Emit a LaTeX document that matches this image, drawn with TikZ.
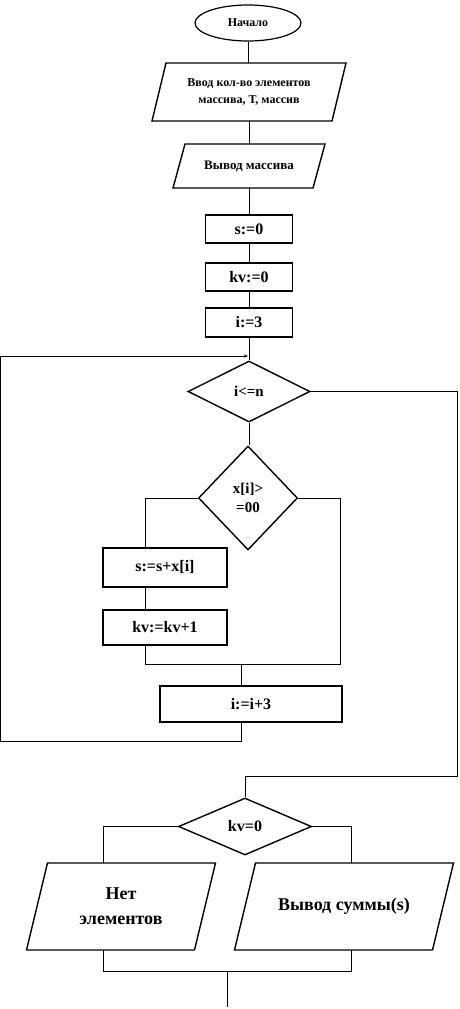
\documentclass[tikz,border=0pt]{standalone}
\usepackage{fontspec}
\setmainfont{Liberation Serif}
\usetikzlibrary{shapes.geometric,arrows.meta,calc}

\tikzset{
  shp/.style={draw, line width=1.4pt, inner sep=0pt},
  blk/.style={shp, minimum width=87pt, minimum height=28pt, font=\bfseries\fontsize{16}{16}\selectfont},
  term/.style={shp, ellipse, line width=1.2pt, minimum width=106pt, minimum height=36pt, font=\bfseries\fontsize{12}{12}\selectfont},
  dec/.style={shp, diamond, align=center},
  paratext/.style={inner sep=0pt, align=center},
  con/.style={line width=0.6pt},
}
\newcommand{\mypara}[8]{% name, cx, cy, w, h, slant, font, text
  \node[paratext, minimum width=#4pt, minimum height=#5pt, font=#7] (#1) at (#2,#3) {#8};
  \draw[line width=1.4pt, line join=miter]
    ({#2-#4/2+#6/2},{#3-#5/2}) -- ({#2+#4/2+#6/2},{#3-#5/2}) --
    ({#2+#4/2-#6/2},{#3+#5/2}) -- ({#2-#4/2-#6/2},{#3+#5/2}) -- cycle;
}

\begin{document}
\begin{tikzpicture}[x=1pt,y=-1pt]
\useasboundingbox (0,0) rectangle (459,1009);

\node[term] (start) at (248,23) {Начало};
\mypara{p1}{249}{92}{180}{58}{14}{\bfseries\fontsize{12}{17}\selectfont}{Ввод кол-во элементов\\массива, Т, массив}
\mypara{p2}{249}{166}{140}{44}{12}{\bfseries\fontsize{13}{13}\selectfont}{Вывод массива}
\node[blk] (b1) at (249,229) {s:=0};
\node[blk] (b2) at (249,277) {kv:=0};
\node[blk, minimum height=29pt] (b3) at (249,322.5) {i:=3};
\node[dec, minimum width=122pt, minimum height=61pt, font=\bfseries\fontsize{15}{15}\selectfont] (d1) at (249,391.5) {i<=n};
\node[dec, minimum width=99pt, minimum height=104pt, font=\bfseries\fontsize{15}{19}\selectfont] (d2) at (248,498) {x[i]>\\=00};
\node[blk, minimum width=124pt, minimum height=39pt] (b4) at (165,567.5) {s:=s+x[i]};
\node[blk, minimum width=124pt, minimum height=35pt] (b5) at (165,627.5) {kv:=kv+1};
\node[blk, minimum width=182pt, minimum height=36pt] (b6) at (251,704) {i:=i+3};
\node[dec, minimum width=133pt, minimum height=57pt, font=\bfseries\fontsize{16}{16}\selectfont] (d3) at (245,826.5) {kv=0};
\mypara{p3}{121}{906.5}{168}{87}{21}{\bfseries\fontsize{18}{25}\selectfont}{Нет\\элементов}
\mypara{p4}{344}{906.5}{198}{87}{21}{\bfseries\fontsize{18}{18}\selectfont}{Вывод суммы(s)}

% helper coordinates
\coordinate (loopin) at (248,356);
\coordinate (loopbl) at (0,741);
\coordinate (lx) at (145,0);
\coordinate (rx) at (340,0);
\coordinate (join) at (241,664);
\coordinate (exitr) at (457,776);
\coordinate (xl) at (103,0);
\coordinate (xr) at (351,0);
\coordinate (jb) at (227,971);
\coordinate (fin) at (227,1007);

% main line
\draw[con] (start.south) -- (start.south |- p1.north);
\draw[con] (p1.south) -- (p1.south |- p2.north);
\draw[con] (p2.south) -- (p2.south |- b1.north);
\draw[con] (b1) -- (b2);
\draw[con] (b2) -- (b3);
\draw[con] (b3.south) -- (b3.south |- d1.north);
\draw[con] (d1.south) -- (d1.south |- d2.north);

% inner branch
\draw[con] (d2.west) -| (lx |- b4.north);
\draw[con] (lx |- b4.south) -- (lx |- b5.north);
\draw[con] (lx |- b5.south) -- (lx |- join) -- (rx |- join) |- (d2.east);
\draw[con] (join) -- (join |- b6.north);

% loop back
\draw[con] (join |- b6.south) -- (join |- loopbl) -- (loopbl) -- (loopbl |- loopin);
\draw[con, -{Stealth[length=4pt,width=3pt]}] (loopbl |- loopin) -- (loopin);

% exit
\draw[con] (d1.east) -| (exitr) -| (d3.north);

% final branch
\draw[con] (d3.west) -| (xl |- p3.north);
\draw[con] (d3.east) -| (xr |- p4.north);
\draw[con] (xl |- p3.south) -- (xl |- jb) -- (xr |- jb) -- (xr |- p4.south);
\draw[con] (jb) -- (fin);
\end{tikzpicture}
\end{document}
